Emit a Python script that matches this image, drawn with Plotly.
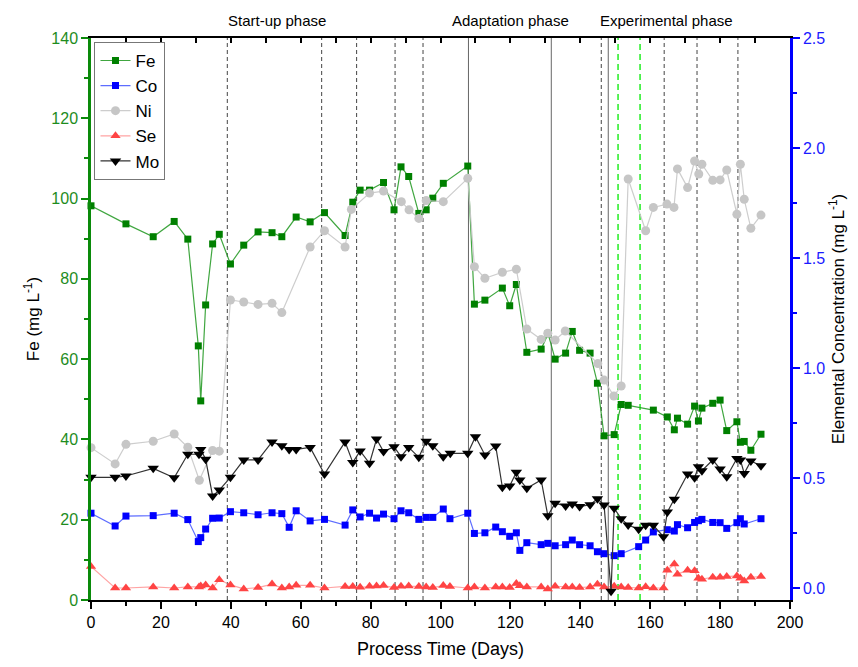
import plotly.graph_objects as go

# ---------------- data ----------------
fe_days = [0, 10.0, 17.8, 23.8, 27.7, 30.7, 31.4, 32.8, 34.8, 36.7, 39.9, 43.7, 47.8, 51.8, 54.6,
           58.7, 62.7, 66.8, 72.7, 74.9, 77.0, 79.7, 83.7, 86.7, 88.7, 90.9, 93.8, 95.9, 97.8,
           100.8, 107.8, 109.7, 112.7, 117.7, 119.8, 121.7, 124.7, 128.8, 130.8, 132.8, 135.8,
           137.7, 139.8, 142.8, 144.9, 146.8, 149.7, 151.7, 153.7, 160.9, 164.9, 166.9, 167.8,
           170.7, 172.7, 173.8, 174.8, 177.9, 180.0, 181.9, 184.8, 185.8, 186.9, 188.8, 191.7]
fe_vals = [98.2, 93.7, 90.5, 94.3, 89.9, 63.3, 49.6, 73.5, 88.7, 91.1, 83.7, 88.4, 91.7, 91.5, 90.5,
           95.4, 94.2, 96.5, 90.8, 99.1, 102.1, 102.1, 104.0, 97.2, 107.9, 105.5, 96.3, 97.2, 100.1,
           103.8, 108.1, 73.7, 74.7, 77.7, 73.3, 78.6, 61.7, 62.5, 66.3, 60.0, 61.5,
           66.9, 62.2, 61.5, 54.0, 40.9, 41.2, 48.7, 48.5, 47.3, 45.6, 42.4, 45.3,
           43.8, 48.3, 44.6, 47.8, 49.0, 49.8, 42.2, 44.4, 39.3, 39.5, 37.3, 41.3]

co_days = [0, 6.9, 10.0, 17.8, 23.8, 27.7, 30.7, 31.4, 32.8, 34.8, 36.7, 39.9, 43.7, 47.8, 51.8,
           54.6, 56.7, 58.7, 62.7, 66.8, 72.7, 74.9, 77.0, 79.7, 81.7, 83.7, 86.7, 88.7, 90.9,
           93.8, 95.9, 97.8, 100.8, 102.7, 107.8, 109.7, 112.7, 115.8, 117.7, 119.8, 121.7, 122.7,
           124.7, 128.8, 130.7, 132.8, 135.8, 137.7, 139.8, 142.8, 144.9, 146.8, 149.7, 151.7,
           156.7, 158.7, 160.9, 164.9, 166.9, 167.8, 170.7, 172.7, 173.8, 174.8, 177.9, 180.0,
           181.9, 184.8, 185.8, 186.9, 191.7]
co_vals = [0.340, 0.282, 0.327, 0.329, 0.340, 0.311, 0.211, 0.229, 0.268, 0.317, 0.318, 0.347, 0.342,
           0.333, 0.342, 0.338, 0.276, 0.351, 0.305, 0.312, 0.286, 0.355, 0.323, 0.340, 0.318, 0.336,
           0.315, 0.351, 0.342, 0.312, 0.321, 0.321, 0.359, 0.315, 0.340, 0.248, 0.251, 0.277, 0.256,
           0.235, 0.251, 0.171, 0.206, 0.197, 0.203, 0.192, 0.197, 0.218, 0.197, 0.192, 0.165, 0.156,
           0.147, 0.156, 0.188, 0.218, 0.255, 0.265, 0.259, 0.288, 0.274, 0.298, 0.306, 0.312, 0.298,
           0.297, 0.271, 0.297, 0.315, 0.291, 0.315]

ni_days = [0, 6.9, 10.0, 17.8, 23.8, 27.7, 31.0, 34.8, 36.7, 39.9, 43.7, 47.8, 51.8, 54.6, 62.7,
           66.8, 72.7, 74.5, 79.7, 83.7, 88.8, 91.0, 93.8, 95.9, 100.8, 107.8, 109.7, 112.7, 117.7,
           121.7, 124.7, 128.8, 130.7, 132.8, 135.7, 145.0, 146.8, 149.6, 151.7, 153.7, 158.7,
           160.9, 164.8, 166.8, 167.8, 170.7, 172.7, 173.9, 174.8, 177.9, 180.0, 181.9, 184.8,
           185.8, 186.9, 188.8, 191.7]
ni_vals = [0.638, 0.564, 0.653, 0.667, 0.700, 0.640, 0.490, 0.625, 0.622, 1.309, 1.300, 1.289, 1.294,
           1.252, 1.550, 1.624, 1.550, 1.721, 1.795, 1.804, 1.756, 1.719, 1.680, 1.761, 1.756, 1.862,
           1.460, 1.408, 1.435, 1.449, 1.177, 1.130, 1.158, 1.127, 1.168, 1.020, 0.945, 0.873, 0.918,
           1.859, 1.624, 1.730, 1.745, 1.730, 1.905, 1.820, 1.941, 1.882, 1.926, 1.853, 1.855, 1.900,
           1.699, 1.926, 1.767, 1.635, 1.695]

se_days = [0, 6.9, 10.0, 17.8, 23.8, 27.7, 30.9, 31.4, 32.8, 34.8, 36.7, 39.9, 43.7, 47.8, 51.8,
           54.6, 56.7, 58.7, 62.7, 66.8, 72.7, 74.9, 77.0, 79.7, 81.7, 83.7, 86.7, 88.7, 90.9,
           93.8, 95.9, 97.8, 100.8, 102.7, 107.8, 109.7, 112.7, 115.8, 117.7, 119.8, 121.7, 122.7,
           124.7, 128.8, 130.7, 132.8, 135.8, 137.7, 139.8, 142.8, 144.9, 146.8, 149.7, 151.7,
           153.7, 156.7, 158.7, 160.9, 163.8, 164.9, 166.9, 167.8, 170.7, 172.7, 173.8, 174.8,
           177.9, 180.0, 181.9, 184.8, 185.8, 186.9, 188.8, 191.7]
se_vals = [0.098, 0.0, 0.0, 0.005, 0.0, 0.005, 0.005, 0.009, 0.014, 0.0, 0.038, 0.014, -0.004, 0.002,
           0.018, 0.0, 0.005, 0.012, 0.012, 0.0, 0.007, 0.007, 0.003, 0.008, 0.009, 0.011, 0.002,
           0.008, 0.009, 0.007, 0.005, 0.002, 0.011, 0.007, 0.0, 0.005, 0.0, 0.005, 0.005, 0.002,
           0.020, 0.010, 0.005, 0.005, -0.005, 0.008, 0.005, 0.005, 0.002, 0.005, 0.017, 0.005,
           0.008, 0.005, 0.002, 0.0, 0.006, 0.0, 0.0, 0.081, 0.109, 0.063, 0.081, 0.078, 0.044,
           0.040, 0.049, 0.049, 0.052, 0.055, 0.044, 0.032, 0.049, 0.052]

mo_days = [0, 6.9, 10.0, 17.8, 23.8, 27.7, 30.9, 31.4, 32.8, 34.8, 36.7, 39.9, 43.7, 47.8, 51.8,
           54.6, 56.7, 58.7, 62.7, 66.8, 72.7, 74.9, 77.0, 79.7, 81.7, 83.7, 86.7, 88.7, 90.9,
           93.8, 95.9, 97.8, 100.8, 102.8, 107.8, 110.0, 112.7, 115.8, 117.7, 119.8, 121.7, 122.7,
           124.7, 128.8, 130.7, 132.8, 135.8, 137.7, 139.8, 142.8, 144.9, 146.8, 148.8, 149.7,
           151.7, 153.7, 156.7, 158.7, 160.9, 163.8, 164.9, 166.9, 170.7, 172.7, 173.8, 174.8,
           177.9, 180.0, 181.9, 184.8, 185.8, 186.9, 188.8, 191.7]
mo_vals = [0.503, 0.503, 0.509, 0.544, 0.501, 0.608, 0.608, 0.630, 0.585, 0.418, 0.445, 0.503, 0.582,
           0.582, 0.664, 0.647, 0.630, 0.630, 0.639, 0.518, 0.664, 0.571, 0.623, 0.567, 0.677, 0.620,
           0.642, 0.597, 0.639, 0.594, 0.667, 0.647, 0.597, 0.612, 0.612, 0.688, 0.605, 0.645, 0.458,
           0.464, 0.526, 0.491, 0.453, 0.491, 0.329, 0.385, 0.373, 0.382, 0.370, 0.379, 0.406, 0.377,
           -0.015, 0.362, 0.315, 0.286, 0.267, 0.285, 0.285, 0.233, 0.345, 0.403, 0.518, 0.501, 0.551,
           0.533, 0.582, 0.541, 0.506, 0.589, 0.582, 0.521, 0.577, 0.556]

dashed_days = [39, 66, 76, 87, 95, 146, 164, 173.4, 185.1]
solid_days = [108, 131.7, 148]
green_days = [150.8, 157.1]

phase_labels = ["Start-up phase", "Adaptation phase", "Experimental phase"]
phase_pos = [53.2, 119.9, 164.8]

FONT = "Liberation Sans, Arial, sans-serif"

fig = go.Figure()

# drawing order: Ni, Se, Co, Mo, Fe
fig.add_trace(go.Scatter(x=ni_days, y=ni_vals, name="Ni", yaxis="y2", mode="lines+markers",
                         line=dict(color="rgba(200,200,200,0.9)", width=1.2),
                         marker=dict(symbol="circle", size=9, color="#C6C6C6"),
                         legendrank=3, cliponaxis=False))
fig.add_trace(go.Scatter(x=se_days, y=se_vals, name="Se", yaxis="y2", mode="lines+markers",
                         line=dict(color="rgba(255,90,90,0.55)", width=1.2),
                         marker=dict(symbol="triangle-up", size=9, color="#FF4444"),
                         legendrank=4, cliponaxis=False))
fig.add_trace(go.Scatter(x=co_days, y=co_vals, name="Co", yaxis="y2", mode="lines+markers",
                         line=dict(color="rgba(40,60,255,0.75)", width=1.2),
                         marker=dict(symbol="square", size=7, color="#0000FF"),
                         legendrank=2, cliponaxis=False))
fig.add_trace(go.Scatter(x=mo_days, y=mo_vals, name="Mo", yaxis="y2", mode="lines+markers",
                         line=dict(color="#333333", width=1.2),
                         marker=dict(symbol="triangle-down", size=10, color="#000000"),
                         legendrank=5, cliponaxis=False))
fig.add_trace(go.Scatter(x=fe_days, y=fe_vals, name="Fe", yaxis="y", mode="lines+markers",
                         line=dict(color="rgba(30,150,30,0.85)", width=1.2),
                         marker=dict(symbol="square", size=7, color="#008000"),
                         legendrank=1, cliponaxis=False))
# helper trace for the top axis
fig.add_trace(go.Scatter(x=[None], y=[None], xaxis="x2", yaxis="y", showlegend=False,
                         hoverinfo="skip"))

shapes = []
for d in dashed_days:
    shapes.append(dict(type="line", xref="x", yref="paper", x0=d, x1=d, y0=0, y1=1,
                       line=dict(color="#444444", width=1, dash="4px,3px"), layer="below"))
for d in solid_days:
    shapes.append(dict(type="line", xref="x", yref="paper", x0=d, x1=d, y0=0, y1=1,
                       line=dict(color="#666666", width=1), layer="below"))
for d in green_days:
    shapes.append(dict(type="line", xref="x", yref="paper", x0=d, x1=d, y0=0, y1=1,
                       line=dict(color="#22EE22", width=1.5, dash="6px,4px"), layer="below"))

annotations = []
for lab, pos in zip(phase_labels, phase_pos):
    annotations.append(dict(text=lab, x=pos, y=1.032, xref="x", yref="paper", showarrow=False,
                            font=dict(size=15, color="black", family=FONT),
                            xanchor="center", yanchor="middle"))

fig.update_layout(
    width=858, height=667,
    margin=dict(l=91, r=68, t=38, b=67),
    paper_bgcolor="white", plot_bgcolor="white",
    font=dict(family=FONT, size=15, color="black"),
    shapes=shapes, annotations=annotations,
    showlegend=True,
    legend=dict(x=0.005, y=0.993, xanchor="left", yanchor="top",
                bgcolor="white", bordercolor="#777777", borderwidth=1,
                font=dict(size=17, family=FONT), tracegroupgap=0, itemwidth=30),
    xaxis=dict(range=[0, 200], dtick=20, tick0=0, showline=True, linecolor="black", linewidth=1.5,
               ticks="outside", ticklen=7, tickwidth=1.5, tickcolor="black",
               minor=dict(dtick=10, ticks="outside", ticklen=4, tickwidth=1.5, tickcolor="black"),
               showgrid=False, zeroline=False,
               tickfont=dict(size=16, color="black"),
               title=dict(text="Process Time (Days)", font=dict(size=18), standoff=12)),
    xaxis2=dict(range=[0, 200], overlaying="x", side="top", anchor="y", dtick=10, tick0=0,
                showline=True, linecolor="black", linewidth=1.5, ticks="inside", ticklen=5,
                tickwidth=1.5, tickcolor="black", showticklabels=False, showgrid=False,
                zeroline=False),
    yaxis=dict(range=[0, 140], dtick=20, tick0=0, showline=True, linecolor="#0A8A0A", linewidth=2.5,
               ticks="outside", ticklen=7, tickwidth=2, tickcolor="#0A8A0A",
               minor=dict(dtick=10, ticks="outside", ticklen=4, tickwidth=2, tickcolor="#0A8A0A"),
               showgrid=False, zeroline=False,
               tickfont=dict(size=16, color="#1E8C1E"),
               title=dict(text="Fe (mg L<sup>-1</sup>)", font=dict(size=17, color="black"), standoff=8)),
    yaxis2=dict(range=[-0.0545, 2.5], dtick=0.5, tick0=0, overlaying="y", side="right", anchor="x",
                showline=True, linecolor="#0000FF", linewidth=2.5,
                ticks="outside", ticklen=7, tickwidth=2, tickcolor="#0000FF",
                minor=dict(dtick=0.25, tick0=0, ticks="outside", ticklen=4, tickwidth=2, tickcolor="#0000FF"),
                showgrid=False, zeroline=False, tickformat=".1f",
                tickfont=dict(size=16, color="#1A1AFF"),
                title=dict(text="Elemental Concentration (mg L<sup>-1</sup>)",
                           font=dict(size=17, color="black"), standoff=8)),
)

fig.write_html("out.html")
